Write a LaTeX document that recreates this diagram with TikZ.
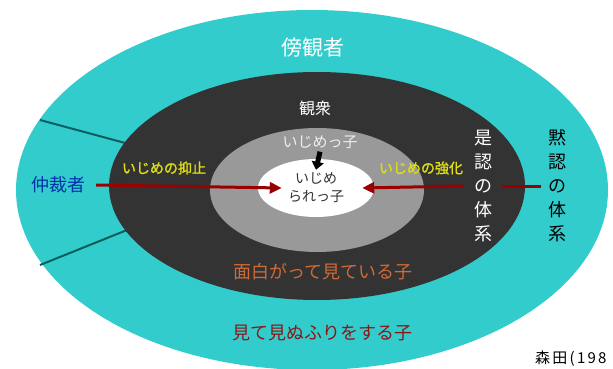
\documentclass[tikz,border=0pt]{standalone}
\usepackage{fontspec}
\setmainfont{Noto Sans CJK JP}[AutoFakeBold=1.5]
\usetikzlibrary{arrows.meta,shapes.geometric}
\definecolor{tealbg}{HTML}{33CCCC}
\definecolor{darkbg}{HTML}{333333}
\definecolor{graybg}{HTML}{999999}
\definecolor{arrowred}{HTML}{990000}
\definecolor{labyellow}{HTML}{DDDD11}
\definecolor{labblue}{HTML}{0033AA}
\definecolor{laborange}{HTML}{D06A36}
\definecolor{labred}{HTML}{8E1515}
\definecolor{divline}{HTML}{0B5E5E}
\definecolor{lighttxt}{HTML}{EEEEEE}
\tikzset{
  lbl/.style={inner sep=0pt, anchor=center},
  vert/.style={lbl, align=center, font=\fontsize{18}{24}\selectfont},
  redarrow/.style={draw=arrowred, line width=3pt, -{Triangle[length=12pt,width=11pt]}},
  redline/.style={draw=arrowred, line width=3pt},
  blackarrow/.style={draw=black, line width=5pt, -{Triangle[length=8pt,width=12pt]}},
  divider/.style={draw=divline, line width=2pt}
}
\begin{document}
\begin{tikzpicture}[x=1pt,y=-1pt]
\useasboundingbox (0,0) rectangle (613,369);
\clip (0,0) rectangle (613,369);
\fill[white] (0,0) rectangle (613,369);
% outer teal ellipse
\fill[tealbg] (312,190) ellipse [x radius=296, y radius=180];
% dividers
\coordinate (d1a) at (40,120);
\coordinate (d1b) at (140,147);
\coordinate (d2a) at (40,265);
\coordinate (d2b) at (142,224);
\draw[divider] (d1a) -- (d1b);
\draw[divider] (d2a) -- (d2b);
% dark ellipse
\fill[darkbg] (317,186) ellipse [x radius=208, y radius=114];
% gray ellipse
\fill[graybg] (317,190) ellipse [x radius=107, y radius=62];
% white centre
\node[ellipse, fill=white, minimum width=116pt, minimum height=58pt, inner sep=0pt,
      align=center, text=darkbg, font=\fontsize{14}{18}\selectfont] (victim) at (316,188)
      {いじめ\\られっ子};
% labels
\node[lbl, text=white, font=\fontsize{21}{24}\selectfont] (bystander) at (313,48) {傍観者};
\node[lbl, text=white, font=\fontsize{16}{20}\selectfont] (audience) at (315,108) {観衆};
\node[lbl, text=lighttxt, font=\fontsize{15}{18}\selectfont] (bully) at (320,142) {いじめっ子};
\node[lbl, text=labyellow, font=\fontsize{14}{16}\selectfont\bfseries] (suppress) at (164,168) {いじめの抑止};
\node[lbl, text=labyellow, font=\fontsize{14}{16}\selectfont\bfseries] (reinforce) at (421,168) {いじめの強化};
\node[lbl, text=labblue, font=\fontsize{18}{20}\selectfont] (mediator) at (58,185) {仲裁者};
\node[lbl, text=laborange, font=\fontsize{18}{20}\selectfont] (amused) at (323,272) {面白がって見ている子};
\node[lbl, text=labred, font=\fontsize{18}{20}\selectfont] (ignore) at (322,333) {見て見ぬふりをする子};
\node[vert, text=white] (zenin) at (483,186) {是\\認\\の\\体\\系};
\node[vert, text=black] (mokunin) at (557,186) {黙\\認\\の\\体\\系};
\node[lbl, anchor=west, text=black, font=\fontsize{15}{17}\selectfont\addfontfeature{LetterSpace=15}] (source) at (535,359) {森田(198};
% connectors
\draw[redarrow] ([xshift=11pt]mediator.east) -- ([xshift=24pt]victim.west);
\draw[redarrow] ([xshift=-11pt]zenin.west) -- ([xshift=-12pt]victim.east);
\draw[redline] ([xshift=-7pt]mokunin.west) -- ([xshift=10pt]zenin.east);
\draw[blackarrow] ([yshift=-3pt]bully.south) -- ([yshift=-11pt]victim.north);
\end{tikzpicture}
\end{document}
